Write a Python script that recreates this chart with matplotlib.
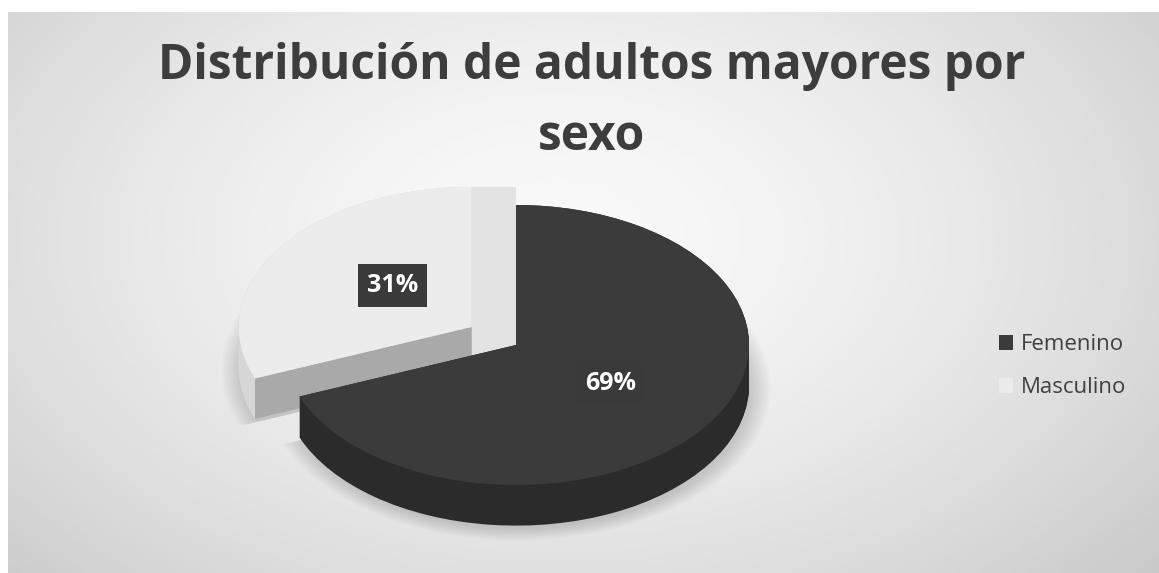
import numpy as np
import matplotlib
matplotlib.use("Agg")
import matplotlib.pyplot as plt
from matplotlib.patches import Polygon

categorias = ["Femenino", "Masculino"]
porcentajes = [69, 31]
separacion = [0.0, 0.23]

color_top = ["#3b3b3b", "#ececec"]
color_lado = ["#2b2b2b", "#d6d6d6"]
color_corte = "#a9a9a9"

W, H = 1159, 573
fig = plt.figure(figsize=(W / 100, H / 100), dpi=100)
fig.patch.set_facecolor("white")

# fondo con degradado radial
bg = fig.add_axes([8 / W, 0, 1 - 8 / W, 1 - 12 / H])
yy, xx = np.mgrid[0:200, 0:400]
r = np.sqrt(((xx - 190) / 260.0) ** 2 + ((yy - 80) / 170.0) ** 2)
g = np.clip(0.975 - 0.17 * r ** 1.6, 0.78, 1)
bg.imshow(g, cmap="gray", vmin=0, vmax=1, aspect="auto", interpolation="bilinear")
bg.axis("off")

# pastel 3D: capas apiladas para el grosor
ax = fig.add_axes([166.5 / W, 18 / H, 699 / W, 392 / H])
ax.set_facecolor("none")
prof = 0.29
ang0 = 90
grados = np.array(porcentajes) / sum(porcentajes) * 360

# sombra difusa bajo el pastel
for k in range(8):
    sh = ax.pie(porcentajes, startangle=ang0, counterclock=False, explode=separacion,
                center=(0.01, -prof - 0.02), radius=1.0 + 0.012 * k,
                colors=["#000000", "#000000"], wedgeprops=dict(linewidth=0, alpha=0.018))[0]
    for w in sh:
        w.set_zorder(0.5)

for d in np.linspace(prof, 0, 40):
    ws = ax.pie(porcentajes, startangle=ang0, counterclock=False, explode=separacion,
                center=(0, -d), colors=color_lado, wedgeprops=dict(linewidth=0))[0]
    ws[0].set_zorder(3)
    ws[1].set_zorder(1)

# caras de corte de la rebanada separada
a_ini = np.deg2rad(ang0)
a_fin = np.deg2rad(ang0 - grados[0])
a_med = np.deg2rad(ang0 - grados[0] - grados[1] / 2)
cx, cy = separacion[1] * np.cos(a_med), separacion[1] * np.sin(a_med)
rx, ry = cx + np.cos(a_fin), cy + np.sin(a_fin)
ax.add_patch(Polygon([(cx, cy), (rx, ry), (rx, ry - prof), (cx, cy - prof)],
                     closed=True, fc=color_corte, ec="none", zorder=1.5))
ax.add_patch(Polygon([(cx, cy + np.sin(a_ini)), (0, cy + np.sin(a_ini)), (0, 0), (cx, cy - prof)],
                     closed=True, fc="#e3e3e3", ec="none", zorder=1.2))

tops = ax.pie(porcentajes, startangle=ang0, counterclock=False, explode=separacion,
              colors=color_top, wedgeprops=dict(linewidth=0))[0]
tops[0].set_zorder(4)
tops[1].set_zorder(2)

# etiquetas de porcentaje
dist = [0.49, 0.41]
extra_y = [0.0, 0.065]
inicio = ang0
for i, v in enumerate(porcentajes):
    mid = np.deg2rad(inicio - grados[i] / 2)
    inicio -= grados[i]
    ox, oy = separacion[i] * np.cos(mid), separacion[i] * np.sin(mid)
    ax.text(ox + dist[i] * np.cos(mid), oy + dist[i] * np.sin(mid) + extra_y[i],
            f"{v}%", color="white", fontsize=18, fontweight="bold", family="Open Sans",
            ha="center", va="center", zorder=6,
            bbox=dict(boxstyle="square,pad=0.35", fc="#3a3a3a", ec="none"))

ax.set_aspect("auto")
ax.set_xlim(-1.5, 1.5)
ax.set_ylim(-1.5, 1.3)
ax.axis("off")

titulo = ["Distribución de adultos mayores por", "sexo"]
for y_px, linea in zip([79, 150], titulo):
    fig.text(592 / W, 1 - y_px / H, linea, ha="center", va="baseline", fontsize=34.5,
             fontweight="bold", family="Open Sans", color="#3d3d3d")

fig.legend(tops, categorias, loc="center left", bbox_to_anchor=(979 / W, 1 - 366 / H),
           frameon=False, handlelength=0.65, handleheight=0.65, handletextpad=0.35,
           labelspacing=1.0, prop=dict(family="Open Sans", size=16), labelcolor="#404040")

fig.savefig("out.png", dpi=100)
